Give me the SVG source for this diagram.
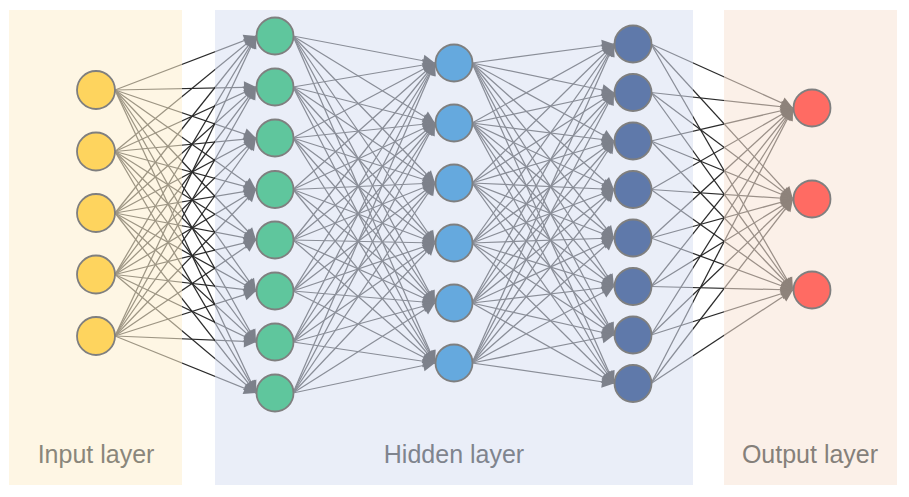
<svg xmlns="http://www.w3.org/2000/svg" width="909" height="497" viewBox="0 0 909 497">
<defs>
<marker id="ah" markerUnits="userSpaceOnUse" markerWidth="12" markerHeight="12" refX="12" refY="6" orient="auto" overflow="visible">
<path d="M0,0 L12,6 L0,12 z" fill="#0e0e0e"/>
</marker>
</defs>
<style>
.e{stroke:#2a2a2a;stroke-width:1.25;fill:none;marker-end:url(#ah)}
.n{stroke:#7f7f7f;stroke-width:1.8}
.in{fill:#fed45e}.h1{fill:#5fc69d}.h2{fill:#65a9de}.h3{fill:#5f79aa}.out{fill:#ff6b63}
.lbl{font-family:"Liberation Sans",Arial,sans-serif;font-size:25px;text-anchor:middle}
</style>
<rect width="909" height="497" fill="#ffffff"/>
<g id="connectors">
<line class="e" x1="115" y1="90" x2="256" y2="36"/><line class="e" x1="115" y1="90" x2="256" y2="87"/><line class="e" x1="115" y1="90" x2="256" y2="138"/><line class="e" x1="115" y1="90" x2="256" y2="189.5"/><line class="e" x1="115" y1="90" x2="256" y2="240"/><line class="e" x1="115" y1="90" x2="256" y2="291"/><line class="e" x1="115" y1="90" x2="256" y2="342"/><line class="e" x1="115" y1="90" x2="256" y2="393"/>
<line class="e" x1="115" y1="151.5" x2="256" y2="36"/><line class="e" x1="115" y1="151.5" x2="256" y2="87"/><line class="e" x1="115" y1="151.5" x2="256" y2="138"/><line class="e" x1="115" y1="151.5" x2="256" y2="189.5"/><line class="e" x1="115" y1="151.5" x2="256" y2="240"/><line class="e" x1="115" y1="151.5" x2="256" y2="291"/><line class="e" x1="115" y1="151.5" x2="256" y2="342"/><line class="e" x1="115" y1="151.5" x2="256" y2="393"/>
<line class="e" x1="115" y1="213" x2="256" y2="36"/><line class="e" x1="115" y1="213" x2="256" y2="87"/><line class="e" x1="115" y1="213" x2="256" y2="138"/><line class="e" x1="115" y1="213" x2="256" y2="189.5"/><line class="e" x1="115" y1="213" x2="256" y2="240"/><line class="e" x1="115" y1="213" x2="256" y2="291"/><line class="e" x1="115" y1="213" x2="256" y2="342"/><line class="e" x1="115" y1="213" x2="256" y2="393"/>
<line class="e" x1="115" y1="274.5" x2="256" y2="36"/><line class="e" x1="115" y1="274.5" x2="256" y2="87"/><line class="e" x1="115" y1="274.5" x2="256" y2="138"/><line class="e" x1="115" y1="274.5" x2="256" y2="189.5"/><line class="e" x1="115" y1="274.5" x2="256" y2="240"/><line class="e" x1="115" y1="274.5" x2="256" y2="291"/><line class="e" x1="115" y1="274.5" x2="256" y2="342"/><line class="e" x1="115" y1="274.5" x2="256" y2="393"/>
<line class="e" x1="115" y1="336" x2="256" y2="36"/><line class="e" x1="115" y1="336" x2="256" y2="87"/><line class="e" x1="115" y1="336" x2="256" y2="138"/><line class="e" x1="115" y1="336" x2="256" y2="189.5"/><line class="e" x1="115" y1="336" x2="256" y2="240"/><line class="e" x1="115" y1="336" x2="256" y2="291"/><line class="e" x1="115" y1="336" x2="256" y2="342"/><line class="e" x1="115" y1="336" x2="256" y2="393"/>

<line class="e" x1="293" y1="36" x2="435" y2="63"/><line class="e" x1="293" y1="36" x2="435" y2="123"/><line class="e" x1="293" y1="36" x2="435" y2="183"/><line class="e" x1="293" y1="36" x2="435" y2="243"/><line class="e" x1="293" y1="36" x2="435" y2="303"/><line class="e" x1="293" y1="36" x2="435" y2="363"/>
<line class="e" x1="293" y1="87" x2="435" y2="63"/><line class="e" x1="293" y1="87" x2="435" y2="123"/><line class="e" x1="293" y1="87" x2="435" y2="183"/><line class="e" x1="293" y1="87" x2="435" y2="243"/><line class="e" x1="293" y1="87" x2="435" y2="303"/><line class="e" x1="293" y1="87" x2="435" y2="363"/>
<line class="e" x1="293" y1="138" x2="435" y2="63"/><line class="e" x1="293" y1="138" x2="435" y2="123"/><line class="e" x1="293" y1="138" x2="435" y2="183"/><line class="e" x1="293" y1="138" x2="435" y2="243"/><line class="e" x1="293" y1="138" x2="435" y2="303"/><line class="e" x1="293" y1="138" x2="435" y2="363"/>
<line class="e" x1="293" y1="189.5" x2="435" y2="63"/><line class="e" x1="293" y1="189.5" x2="435" y2="123"/><line class="e" x1="293" y1="189.5" x2="435" y2="183"/><line class="e" x1="293" y1="189.5" x2="435" y2="243"/><line class="e" x1="293" y1="189.5" x2="435" y2="303"/><line class="e" x1="293" y1="189.5" x2="435" y2="363"/>
<line class="e" x1="293" y1="240" x2="435" y2="63"/><line class="e" x1="293" y1="240" x2="435" y2="123"/><line class="e" x1="293" y1="240" x2="435" y2="183"/><line class="e" x1="293" y1="240" x2="435" y2="243"/><line class="e" x1="293" y1="240" x2="435" y2="303"/><line class="e" x1="293" y1="240" x2="435" y2="363"/>
<line class="e" x1="293" y1="291" x2="435" y2="63"/><line class="e" x1="293" y1="291" x2="435" y2="123"/><line class="e" x1="293" y1="291" x2="435" y2="183"/><line class="e" x1="293" y1="291" x2="435" y2="243"/><line class="e" x1="293" y1="291" x2="435" y2="303"/><line class="e" x1="293" y1="291" x2="435" y2="363"/>
<line class="e" x1="293" y1="342" x2="435" y2="63"/><line class="e" x1="293" y1="342" x2="435" y2="123"/><line class="e" x1="293" y1="342" x2="435" y2="183"/><line class="e" x1="293" y1="342" x2="435" y2="243"/><line class="e" x1="293" y1="342" x2="435" y2="303"/><line class="e" x1="293" y1="342" x2="435" y2="363"/>
<line class="e" x1="293" y1="393" x2="435" y2="63"/><line class="e" x1="293" y1="393" x2="435" y2="123"/><line class="e" x1="293" y1="393" x2="435" y2="183"/><line class="e" x1="293" y1="393" x2="435" y2="243"/><line class="e" x1="293" y1="393" x2="435" y2="303"/><line class="e" x1="293" y1="393" x2="435" y2="363"/>

<line class="e" x1="472" y1="63" x2="614" y2="44"/><line class="e" x1="472" y1="63" x2="614" y2="92.5"/><line class="e" x1="472" y1="63" x2="614" y2="141"/><line class="e" x1="472" y1="63" x2="614" y2="189.5"/><line class="e" x1="472" y1="63" x2="614" y2="238"/><line class="e" x1="472" y1="63" x2="614" y2="286.5"/><line class="e" x1="472" y1="63" x2="614" y2="335"/><line class="e" x1="472" y1="63" x2="614" y2="383.5"/>
<line class="e" x1="472" y1="123" x2="614" y2="44"/><line class="e" x1="472" y1="123" x2="614" y2="92.5"/><line class="e" x1="472" y1="123" x2="614" y2="141"/><line class="e" x1="472" y1="123" x2="614" y2="189.5"/><line class="e" x1="472" y1="123" x2="614" y2="238"/><line class="e" x1="472" y1="123" x2="614" y2="286.5"/><line class="e" x1="472" y1="123" x2="614" y2="335"/><line class="e" x1="472" y1="123" x2="614" y2="383.5"/>
<line class="e" x1="472" y1="183" x2="614" y2="44"/><line class="e" x1="472" y1="183" x2="614" y2="92.5"/><line class="e" x1="472" y1="183" x2="614" y2="141"/><line class="e" x1="472" y1="183" x2="614" y2="189.5"/><line class="e" x1="472" y1="183" x2="614" y2="238"/><line class="e" x1="472" y1="183" x2="614" y2="286.5"/><line class="e" x1="472" y1="183" x2="614" y2="335"/><line class="e" x1="472" y1="183" x2="614" y2="383.5"/>
<line class="e" x1="472" y1="243" x2="614" y2="44"/><line class="e" x1="472" y1="243" x2="614" y2="92.5"/><line class="e" x1="472" y1="243" x2="614" y2="141"/><line class="e" x1="472" y1="243" x2="614" y2="189.5"/><line class="e" x1="472" y1="243" x2="614" y2="238"/><line class="e" x1="472" y1="243" x2="614" y2="286.5"/><line class="e" x1="472" y1="243" x2="614" y2="335"/><line class="e" x1="472" y1="243" x2="614" y2="383.5"/>
<line class="e" x1="472" y1="303" x2="614" y2="44"/><line class="e" x1="472" y1="303" x2="614" y2="92.5"/><line class="e" x1="472" y1="303" x2="614" y2="141"/><line class="e" x1="472" y1="303" x2="614" y2="189.5"/><line class="e" x1="472" y1="303" x2="614" y2="238"/><line class="e" x1="472" y1="303" x2="614" y2="286.5"/><line class="e" x1="472" y1="303" x2="614" y2="335"/><line class="e" x1="472" y1="303" x2="614" y2="383.5"/>
<line class="e" x1="472" y1="363" x2="614" y2="44"/><line class="e" x1="472" y1="363" x2="614" y2="92.5"/><line class="e" x1="472" y1="363" x2="614" y2="141"/><line class="e" x1="472" y1="363" x2="614" y2="189.5"/><line class="e" x1="472" y1="363" x2="614" y2="238"/><line class="e" x1="472" y1="363" x2="614" y2="286.5"/><line class="e" x1="472" y1="363" x2="614" y2="335"/><line class="e" x1="472" y1="363" x2="614" y2="383.5"/>

<line class="e" x1="651" y1="44" x2="793" y2="108"/><line class="e" x1="651" y1="44" x2="793" y2="199"/><line class="e" x1="651" y1="44" x2="793" y2="290"/>
<line class="e" x1="651" y1="92.5" x2="793" y2="108"/><line class="e" x1="651" y1="92.5" x2="793" y2="199"/><line class="e" x1="651" y1="92.5" x2="793" y2="290"/>
<line class="e" x1="651" y1="141" x2="793" y2="108"/><line class="e" x1="651" y1="141" x2="793" y2="199"/><line class="e" x1="651" y1="141" x2="793" y2="290"/>
<line class="e" x1="651" y1="189.5" x2="793" y2="108"/><line class="e" x1="651" y1="189.5" x2="793" y2="199"/><line class="e" x1="651" y1="189.5" x2="793" y2="290"/>
<line class="e" x1="651" y1="238" x2="793" y2="108"/><line class="e" x1="651" y1="238" x2="793" y2="199"/><line class="e" x1="651" y1="238" x2="793" y2="290"/>
<line class="e" x1="651" y1="286.5" x2="793" y2="108"/><line class="e" x1="651" y1="286.5" x2="793" y2="199"/><line class="e" x1="651" y1="286.5" x2="793" y2="290"/>
<line class="e" x1="651" y1="335" x2="793" y2="108"/><line class="e" x1="651" y1="335" x2="793" y2="199"/><line class="e" x1="651" y1="335" x2="793" y2="290"/>
<line class="e" x1="651" y1="383.5" x2="793" y2="108"/><line class="e" x1="651" y1="383.5" x2="793" y2="199"/><line class="e" x1="651" y1="383.5" x2="793" y2="290"/>
</g>
<g id="panels" fill-opacity="0.55">
<rect id="input-panel" x="9" y="10" width="173" height="475" fill="#fdefce"/>
<rect id="hidden-panel" x="215" y="10" width="478" height="475" fill="#d9e0f2"/>
<rect id="output-panel" x="724" y="10" width="173" height="475" fill="#f8e4d5"/>
</g>
<g id="input-layer">
<g id="i1"><circle class="n in" cx="96" cy="90" r="19"/></g>
<g id="i2"><circle class="n in" cx="96" cy="151.5" r="19"/></g>
<g id="i3"><circle class="n in" cx="96" cy="213" r="19"/></g>
<g id="i4"><circle class="n in" cx="96" cy="274.5" r="19"/></g>
<g id="i5"><circle class="n in" cx="96" cy="336" r="19"/></g>
</g>
<g id="hidden-layer-1">
<g id="a1"><circle class="n h1" cx="275" cy="36" r="18.5"/></g>
<g id="a2"><circle class="n h1" cx="275" cy="87" r="18.5"/></g>
<g id="a3"><circle class="n h1" cx="275" cy="138" r="18.5"/></g>
<g id="a4"><circle class="n h1" cx="275" cy="189.5" r="18.5"/></g>
<g id="a5"><circle class="n h1" cx="275" cy="240" r="18.5"/></g>
<g id="a6"><circle class="n h1" cx="275" cy="291" r="18.5"/></g>
<g id="a7"><circle class="n h1" cx="275" cy="342" r="18.5"/></g>
<g id="a8"><circle class="n h1" cx="275" cy="393" r="18.5"/></g>
</g>
<g id="hidden-layer-2">
<g id="b1"><circle class="n h2" cx="454" cy="63" r="18.5"/></g>
<g id="b2"><circle class="n h2" cx="454" cy="123" r="18.5"/></g>
<g id="b3"><circle class="n h2" cx="454" cy="183" r="18.5"/></g>
<g id="b4"><circle class="n h2" cx="454" cy="243" r="18.5"/></g>
<g id="b5"><circle class="n h2" cx="454" cy="303" r="18.5"/></g>
<g id="b6"><circle class="n h2" cx="454" cy="363" r="18.5"/></g>
</g>
<g id="hidden-layer-3">
<g id="c1"><circle class="n h3" cx="633" cy="44" r="18.5"/></g>
<g id="c2"><circle class="n h3" cx="633" cy="92.5" r="18.5"/></g>
<g id="c3"><circle class="n h3" cx="633" cy="141" r="18.5"/></g>
<g id="c4"><circle class="n h3" cx="633" cy="189.5" r="18.5"/></g>
<g id="c5"><circle class="n h3" cx="633" cy="238" r="18.5"/></g>
<g id="c6"><circle class="n h3" cx="633" cy="286.5" r="18.5"/></g>
<g id="c7"><circle class="n h3" cx="633" cy="335" r="18.5"/></g>
<g id="c8"><circle class="n h3" cx="633" cy="383.5" r="18.5"/></g>
</g>
<g id="output-layer">
<g id="o1"><circle class="n out" cx="812" cy="108" r="18.5"/></g>
<g id="o2"><circle class="n out" cx="812" cy="199" r="18.5"/></g>
<g id="o3"><circle class="n out" cx="812" cy="290" r="18.5"/></g>
</g>
<g id="labels">
<text class="lbl" x="96" y="463" fill="#8a867b">Input layer</text>
<text class="lbl" x="454" y="463" fill="#7f848e">Hidden layer</text>
<text class="lbl" x="810" y="463" fill="#85807a">Output layer</text>
</g>
</svg>
